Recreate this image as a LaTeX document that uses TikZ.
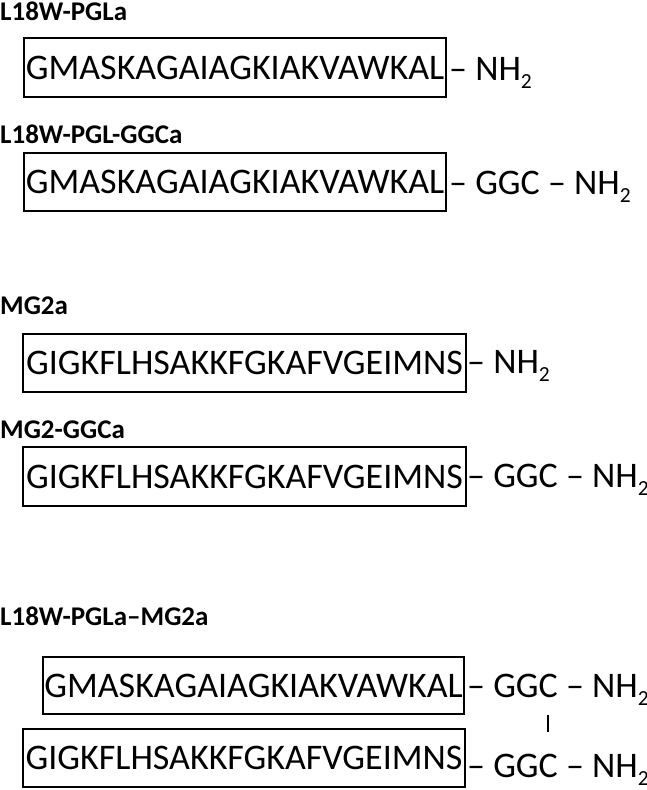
\documentclass[tikz,border=0pt]{standalone}
\usepackage{fontspec}
\setmainfont{Carlito}
\newcommand{\subtwo}{\raisebox{-8pt}{\fontsize{21.5}{21.5}\selectfont 2}}
\begin{document}
\begin{tikzpicture}[x=1pt,y=-1pt,
  title/.style={anchor=base west, font=\fontsize{27}{30}\selectfont\bfseries, inner sep=0pt},
  pep/.style={draw, line width=1.2pt, font=\fontsize{36}{40}\selectfont, inner sep=0pt,
              text height=23pt, text depth=0pt},
  tail/.style={anchor=base west, font=\fontsize{36}{40}\selectfont, inner sep=0pt},
  bar/.style={line width=1.3pt}]
\useasboundingbox (0,0) rectangle (647,790);

% L18W-PGLa
\node[title] (h1) at (0,20) {L18W-PGLa};
\node[pep, minimum width=422pt, minimum height=59pt] (b1) at (235,67.5) {GMASKAGAIAGKIAKVAWKAL};
\node[tail] (t1) at (449,80) {– NH\subtwo};

% L18W-PGL-GGCa
\node[title] (h2) at (0,143) {L18W-PGL-GGCa};
\node[pep, minimum width=422pt, minimum height=58pt] (b2) at (235,182) {GMASKAGAIAGKIAKVAWKAL};
\node[tail] (t2) at (449,194) {– GGC – NH\subtwo};

% MG2a
\node[title] (h3) at (0,314) {MG2a};
\node[pep, minimum width=443pt, minimum height=58pt] (b3) at (244.5,363) {GIGKFLHSAKKFGKAFVGEIMNS};
\node[tail] (t3) at (467,373) {– NH\subtwo};

% MG2-GGCa
\node[title] (h4) at (0,438) {MG2-GGCa};
\node[pep, minimum width=443pt, minimum height=59pt] (b4) at (244.5,476.5) {GIGKFLHSAKKFGKAFVGEIMNS};
\node[tail] (t4) at (467,487) {– GGC – NH\subtwo};

% L18W-PGLa–MG2a
\node[title] (h5) at (0,625) {L18W-PGLa–MG2a};
\node[pep, minimum width=421pt, minimum height=57pt] (b5) at (253.5,685.5) {GMASKAGAIAGKIAKVAWKAL};
\node[tail] (t5) at (467,697) {– GGC – NH\subtwo};
\node[pep, minimum width=442pt, minimum height=58pt] (b6) at (244,758) {GIGKFLHSAKKFGKAFVGEIMNS};
\node[tail] (t6) at (467,777) {– GGC – NH\subtwo};

\coordinate (ss1) at (548,715);
\coordinate (ss2) at (548,732);
\draw[bar] (ss1) -- (ss2);
\end{tikzpicture}
\end{document}
